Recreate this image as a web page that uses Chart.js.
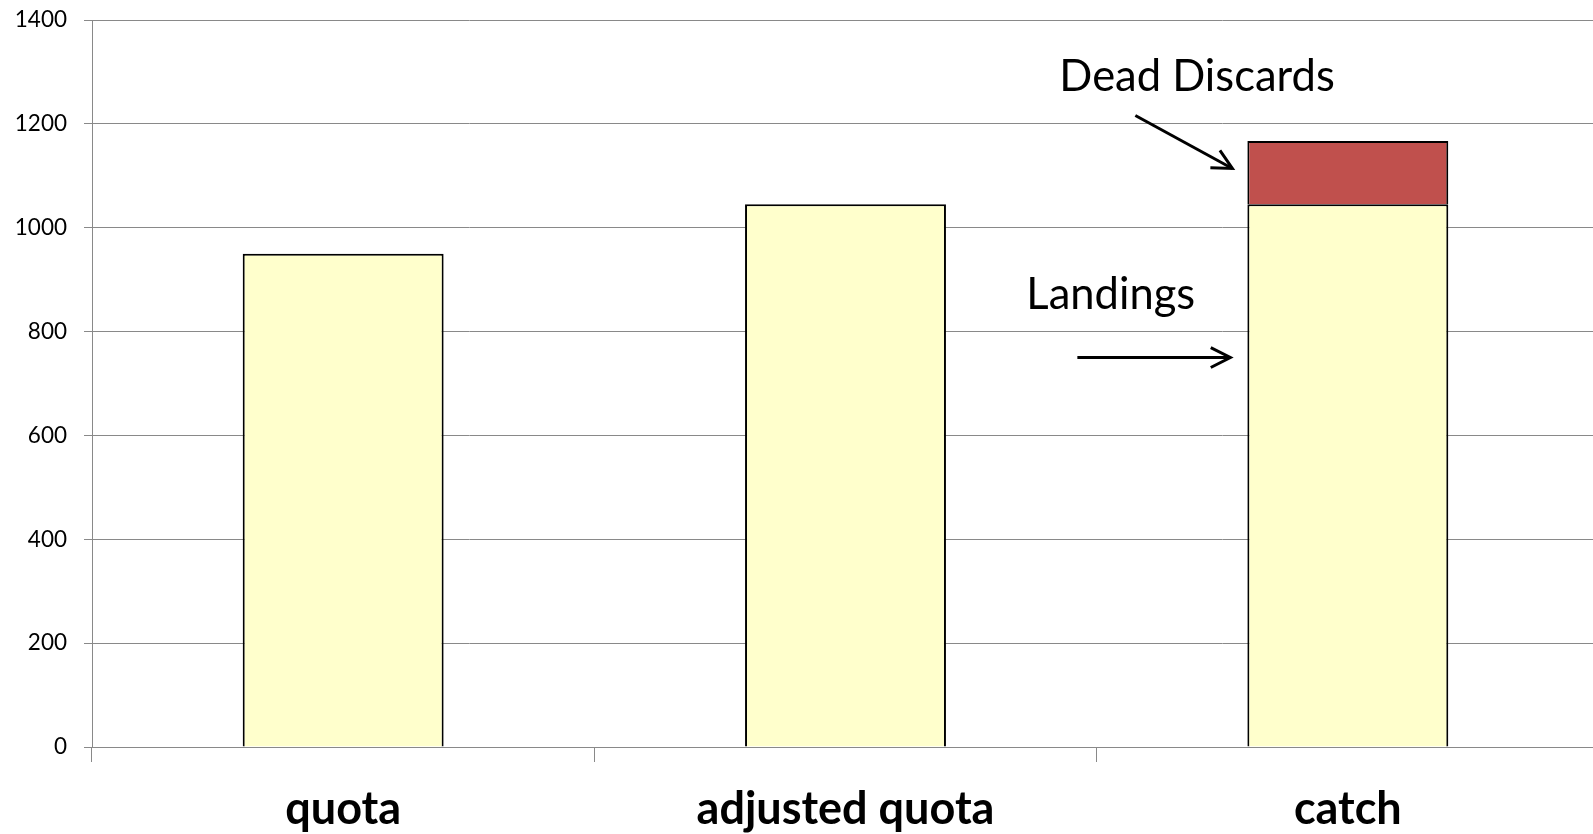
<!DOCTYPE html>
<html>
<head>
<meta charset="utf-8">
<script src="https://cdn.jsdelivr.net/npm/chart.js@4/dist/chart.umd.min.js"></script>
<style>
html,body{margin:0;padding:0;background:#fff;overflow:hidden;}
#wrap{width:1599px;height:834px;}
</style>
</head>
<body>
<div id="wrap"><canvas id="c" width="1599" height="834"></canvas></div>
<script>
const categories = ['quota', 'adjusted quota', 'catch'];
const landings = [950, 1045, 1045];
const deadDiscards = [null, null, 122];
const yTicks = [0, 200, 400, 600, 800, 1000, 1200, 1400];

const GRID = '#898989';

const annotations = {
  id: 'annotations',
  afterDatasetsDraw(chart) {
    const ctx = chart.ctx;
    const ys = chart.scales.y;
    const bar = chart.getDatasetMeta(0).data[2];
    const left = bar.x - bar.width / 2;
    const items = [
      {text: 'Dead Discards', tx: -188, tv: 1264, from: [-112, 1216], to: [-15, 1114]},
      {text: 'Landings', tx: -221, tv: 844, from: [-170, 750], to: [-17, 750]}
    ];
    ctx.save();
    ctx.fillStyle = '#000';
    ctx.strokeStyle = '#000';
    ctx.font = '43.5px Lato';
    ctx.textBaseline = 'alphabetic';
    ctx.textAlign = 'left';
    ctx.lineWidth = 3;
    ctx.lineCap = 'butt';
    for (const it of items) {
      ctx.fillText(it.text, left + it.tx, ys.getPixelForValue(it.tv));
      const x1 = left + it.from[0], y1 = ys.getPixelForValue(it.from[1]);
      const x2 = left + it.to[0], y2 = ys.getPixelForValue(it.to[1]);
      ctx.beginPath();
      ctx.moveTo(x1, y1);
      ctx.lineTo(x2, y2);
      ctx.stroke();
      const ang = Math.atan2(y2 - y1, x2 - x1);
      const L = 22, a = 0.47;
      ctx.beginPath();
      ctx.moveTo(x2 - L * Math.cos(ang - a), y2 - L * Math.sin(ang - a));
      ctx.lineTo(x2, y2);
      ctx.lineTo(x2 - L * Math.cos(ang + a), y2 - L * Math.sin(ang + a));
      ctx.stroke();
    }
    ctx.restore();
  }
};

new Chart(document.getElementById('c'), {
  type: 'bar',
  data: {
    labels: categories,
    datasets: [
      {label: 'Landings', data: landings, backgroundColor: '#FFFFCC', borderColor: '#000', borderWidth: 2},
      {label: 'Dead Discards', data: deadDiscards, backgroundColor: '#C0504D', borderColor: '#000', borderWidth: 2}
    ]
  },
  options: {
    responsive: false,
    animation: false,
    events: [],
    layout: {padding: {top: 20, left: 0, right: 0, bottom: 0}},
    datasets: {bar: {categoryPercentage: 1, barPercentage: 0.4}},
    plugins: {legend: {display: false}, tooltip: {enabled: false}},
    scales: {
      x: {
        stacked: true,
        offset: true,
        grid: {offset: true, drawOnChartArea: false, drawTicks: true, tickLength: 15, color: GRID, lineWidth: 1},
        border: {color: GRID, width: 1},
        ticks: {font: {family: 'Lato', size: 45, weight: 'bold'}, color: '#000', padding: 20},
        afterFit(s) { s.height = 87; }
      },
      y: {
        stacked: true,
        min: 0,
        max: 1400,
        afterBuildTicks(s) { s.ticks = yTicks.map(v => ({value: v})); },
        grid: {color: GRID, lineWidth: 1, tickLength: 8},
        border: {color: GRID, width: 1},
        ticks: {font: {family: 'Lato', size: 22.5}, color: '#000', padding: 17, callback: v => String(v)},
        afterFit(s) { s.width = 92; s.paddingTop = 0; s.paddingBottom = 0; }
      }
    }
  },
  plugins: [annotations]
});
</script>
</body>
</html>
